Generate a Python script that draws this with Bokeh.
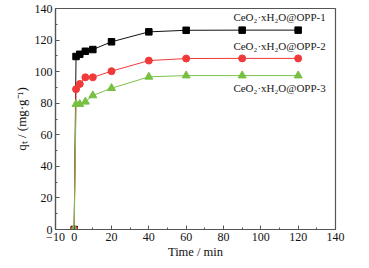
from bokeh.plotting import figure
from bokeh.models import Label, FixedTicker
from bokeh.embed import file_html
from bokeh.resources import INLINE

time_min = [0, 1, 3, 6, 10, 20, 40, 60, 90, 120]
opp1 = [0, 109.6, 111.0, 112.9, 114.0, 118.9, 125.2, 126.2, 126.3, 126.3]
opp2 = [0, 88.9, 92.2, 96.4, 96.4, 100.3, 107.0, 108.3, 108.4, 108.4]
opp3 = [0, 79.4, 79.4, 80.9, 84.9, 89.5, 96.7, 97.5, 97.5, 97.5]
labels = ["CeO₂·xH₂O@OPP-1", "CeO₂·xH₂O@OPP-2", "CeO₂·xH₂O@OPP-3"]
x_ticks = [-10, 0, 20, 40, 60, 80, 100, 120, 140]
y_ticks = [0, 20, 40, 60, 80, 100, 120, 140]

FONT = "Liberation Serif"

p = figure(width=361, height=262, x_range=(-10, 140), y_range=(0, 140),
           output_backend="svg", toolbar_location=None,
           min_border_left=55, min_border_right=26, min_border_top=8,
           min_border_bottom=33)
p.grid.visible = False
p.outline_line_color = "#555555"
p.outline_line_width = 1.2

for ax in (p.xaxis[0], p.yaxis[0]):
    ax.axis_line_color = "#555555"
    ax.axis_line_width = 1.2
    ax.major_tick_line_color = "#555555"
    ax.minor_tick_line_color = "#555555"
    ax.major_tick_in = 4
    ax.major_tick_out = 0
    ax.minor_tick_in = 2
    ax.minor_tick_out = 0
    ax.major_label_text_font = FONT
    ax.major_label_text_font_size = "12px"
    ax.major_label_text_color = "#111111"
    ax.axis_label_text_font = FONT
    ax.axis_label_text_font_style = "normal"
    ax.axis_label_text_color = "#111111"
    ax.major_label_standoff = 3

p.xaxis.axis_label_text_font_size = "12.5px"
p.yaxis.axis_label_text_font_size = "13px"
p.xaxis.ticker = FixedTicker(ticks=x_ticks, minor_ticks=list(range(-10, 141, 10)))
p.yaxis.ticker = FixedTicker(ticks=y_ticks, minor_ticks=list(range(0, 141, 10)))
p.xaxis.major_label_overrides = {-10: "−10"}
p.xaxis.axis_label = "Time / min"
p.yaxis.axis_label = "qₜ / (mg·g⁻¹)"
p.xaxis.axis_label_standoff = 1
p.yaxis.axis_label_standoff = 3

p.line(time_min, opp1, line_color="#111111", line_width=1)
p.scatter(time_min, opp1, marker="square", size=6.5, fill_color="#000000", line_color="#000000")
p.line(time_min, opp2, line_color="#f03a3a", line_width=1)
p.scatter(time_min, opp2, marker="circle", size=7, fill_color="#f03a3a", line_color="#f03a3a")
p.line(time_min, opp3, line_color="#7cc24a", line_width=1)
p.scatter(time_min, opp3, marker="triangle", size=8, fill_color="#77c043", line_color="#77c043")

for txt, yy in zip(labels, [134.9, 116.5, 89.9]):
    p.add_layout(Label(x=85.3, y=yy, text=txt, text_font=FONT, text_font_size="11px",
                       text_color="#222222", text_baseline="middle"))

open("out.html", "w").write(file_html(p, INLINE))
